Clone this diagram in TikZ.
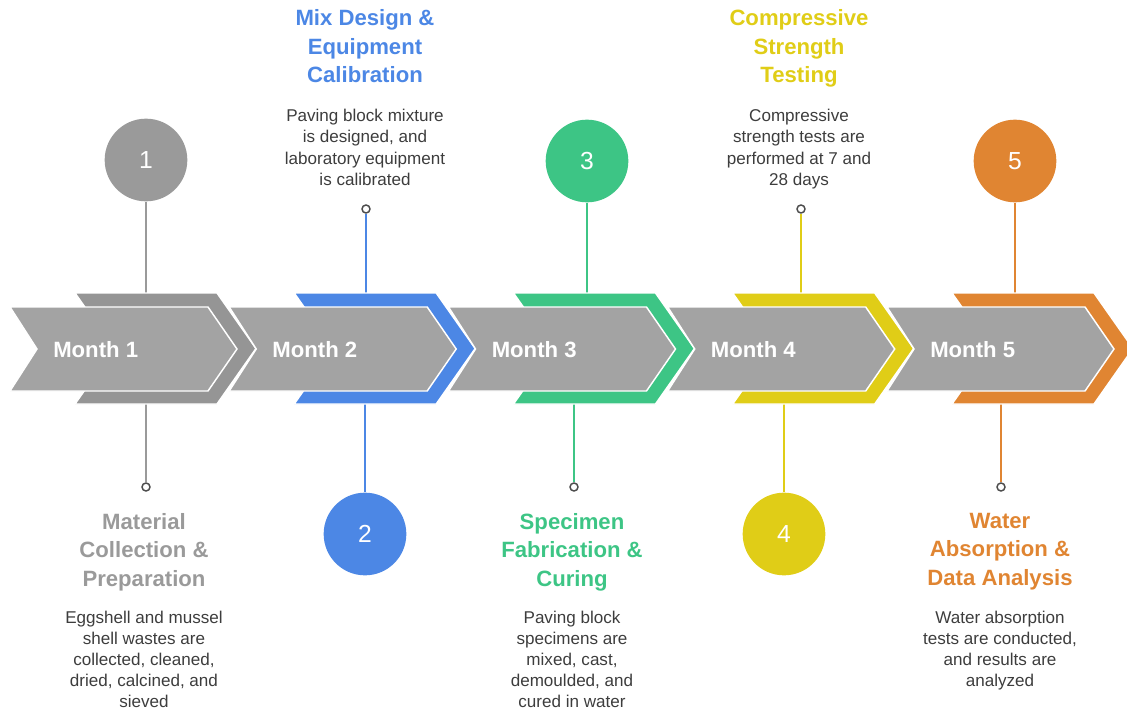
\documentclass[tikz,border=0pt]{standalone}
\usepackage{fontspec}
\setmainfont{Liberation Sans}
\definecolor{chevgray}{HTML}{A3A3A3}
\definecolor{backgray}{HTML}{959595}
\definecolor{stepgray}{HTML}{9A9A9A}
\definecolor{stepblue}{HTML}{4C87E5}
\definecolor{stepgreen}{HTML}{3DC585}
\definecolor{stepyellow}{HTML}{E0CD17}
\definecolor{steporange}{HTML}{E08532}
\definecolor{desccolor}{HTML}{3D3D3D}
\definecolor{pinring}{HTML}{4D4D4D}
\begin{document}
\begin{tikzpicture}[x=0.75pt,y=0.75pt,yscale=-1,
  numcircle/.style={circle,inner sep=0pt,minimum size=62pt,text=white,font=\fontsize{18.5}{20}\selectfont},
  pindot/.style={circle,draw=pinring,fill=white,line width=1.1pt,inner sep=0pt,minimum size=6pt},
  stemline/.style={line width=1.5pt},
  chevfront/.style={fill=chevgray,draw=white,line width=1.1pt},
  chevback/.style={draw=white,line width=1.1pt},
  monthlabel/.style={anchor=base west,inner sep=0pt,text=white,font=\fontsize{16.6}{20}\selectfont\bfseries},
  titletext/.style={anchor=north,align=center,inner sep=0pt,font=\fontsize{16.6}{21.4}\selectfont\bfseries},
  desctext/.style={anchor=north,align=center,inner sep=0pt,text=desccolor,font=\fontsize{12.8}{15.9}\selectfont}]
%set diagram to 1127 x 713
\useasboundingbox (0,0) rectangle (1127,713);
\clip (0,0) rectangle (1127,713);

%Number circles
\node [numcircle,fill=stepgray] (n1) at (146,160) {1};
\node [numcircle,fill=stepblue] (n2) at (365,534) {2};
\node [numcircle,fill=stepgreen] (n3) at (587,161) {3};
\node [numcircle,fill=stepyellow] (n4) at (784,534) {4};
\node [numcircle,fill=steporange] (n5) at (1015,161) {5};

%Pin dots
\node [pindot] (d1) at (146,487) {};
\node [pindot] (d2) at (366,209) {};
\node [pindot] (d3) at (574,487) {};
\node [pindot] (d4) at (801,209) {};
\node [pindot] (d5) at (1001,487) {};

%Stem ends on the chevrons
\coordinate (t1) at (146,293);
\coordinate (t2) at (366,293);
\coordinate (t3) at (587,293);
\coordinate (t4) at (801,293);
\coordinate (t5) at (1015,293);
\coordinate (b1) at (146,404);
\coordinate (b2) at (365,404);
\coordinate (b3) at (574,404);
\coordinate (b4) at (784,404);
\coordinate (b5) at (1001,404);

%Stems
\draw [stemline,stepgray] (n1) -- (t1);
\draw [stemline,stepgray] (b1) -- (d1);
\draw [stemline,stepblue] (d2) -- (t2);
\draw [stemline,stepblue] (b2) -- (n2);
\draw [stemline,stepgreen] (n3) -- (t3);
\draw [stemline,stepgreen] (b3) -- (d3);
\draw [stemline,stepyellow] (d4) -- (t4);
\draw [stemline,stepyellow] (b4) -- (n4);
\draw [stemline,steporange] (n5) -- (t5);
\draw [stemline,steporange] (b5) -- (d5);

%Shape: Chevron month 1
\draw [chevback,fill=backgray] (75,293) -- (217,293) -- (256,348.5) -- (217,404) -- (75,404) -- (114,348.5) -- cycle ;
\draw [chevfront] (10,307) -- (208,307) -- (237,349) -- (208,391) -- (10,391) -- (37,349) -- cycle ;
%Shape: Chevron month 2
\draw [chevback,fill=stepblue] (294.2,293) -- (436.2,293) -- (475.2,348.5) -- (436.2,404) -- (294.2,404) -- (333.2,348.5) -- cycle ;
\draw [chevfront] (229.2,307) -- (427.2,307) -- (456.2,349) -- (427.2,391) -- (229.2,391) -- (256.2,349) -- cycle ;
%Shape: Chevron month 3
\draw [chevback,fill=stepgreen] (513.5,293) -- (655.5,293) -- (694.5,348.5) -- (655.5,404) -- (513.5,404) -- (552.5,348.5) -- cycle ;
\draw [chevfront] (448.5,307) -- (646.5,307) -- (675.5,349) -- (646.5,391) -- (448.5,391) -- (475.5,349) -- cycle ;
%Shape: Chevron month 4
\draw [chevback,fill=stepyellow] (732.7,293) -- (874.7,293) -- (913.7,348.5) -- (874.7,404) -- (732.7,404) -- (771.7,348.5) -- cycle ;
\draw [chevfront] (667.7,307) -- (865.7,307) -- (894.7,349) -- (865.7,391) -- (667.7,391) -- (694.7,349) -- cycle ;
%Shape: Chevron month 5
\draw [chevback,fill=steporange] (952,293) -- (1094,293) -- (1133,348.5) -- (1094,404) -- (952,404) -- (991,348.5) -- cycle ;
\draw [chevfront] (887,307) -- (1085,307) -- (1114,349) -- (1085,391) -- (887,391) -- (914,349) -- cycle ;

% Text Node
\node [monthlabel] (m1) at (53,357) {Month 1};
% Text Node
\node [monthlabel] (m2) at (272.2,357) {Month 2};
% Text Node
\node [monthlabel] (m3) at (491.5,357) {Month 3};
% Text Node
\node [monthlabel] (m4) at (710.7,357) {Month 4};
% Text Node
\node [monthlabel] (m5) at (930,357) {Month 5};

% Text Node
\node [titletext,text=stepgray] (h1) at (144,512.8) {Material\\Collection \&\\Preparation};
% Text Node
\node [desctext] (p1) at (144,610.5) {Eggshell and mussel\\shell wastes are\\collected, cleaned,\\dried, calcined, and\\sieved};
% Text Node
\node [titletext,text=stepblue] (h2) at (365,9.5) {Mix Design \&\\Equipment\\Calibration};
% Text Node
\node [desctext] (p2) at (365,109) {Paving block mixture\\is designed, and\\laboratory equipment\\is calibrated};
% Text Node
\node [titletext,text=stepgreen] (h3) at (572,512.8) {Specimen\\Fabrication \&\\Curing};
% Text Node
\node [desctext] (p3) at (572,610.5) {Paving block\\specimens are\\mixed, cast,\\demoulded, and\\cured in water};
% Text Node
\node [titletext,text=stepyellow] (h4) at (799,9.5) {Compressive\\Strength\\Testing};
% Text Node
\node [desctext] (p4) at (799,109) {Compressive\\strength tests are\\performed at 7 and\\28 days};
% Text Node
\node [titletext,text=steporange] (h5) at (1000,512.8) {Water\\Absorption \&\\Data Analysis};
% Text Node
\node [desctext] (p5) at (1000,610.5) {Water absorption\\tests are conducted,\\and results are\\analyzed};

\end{tikzpicture}
\end{document}
